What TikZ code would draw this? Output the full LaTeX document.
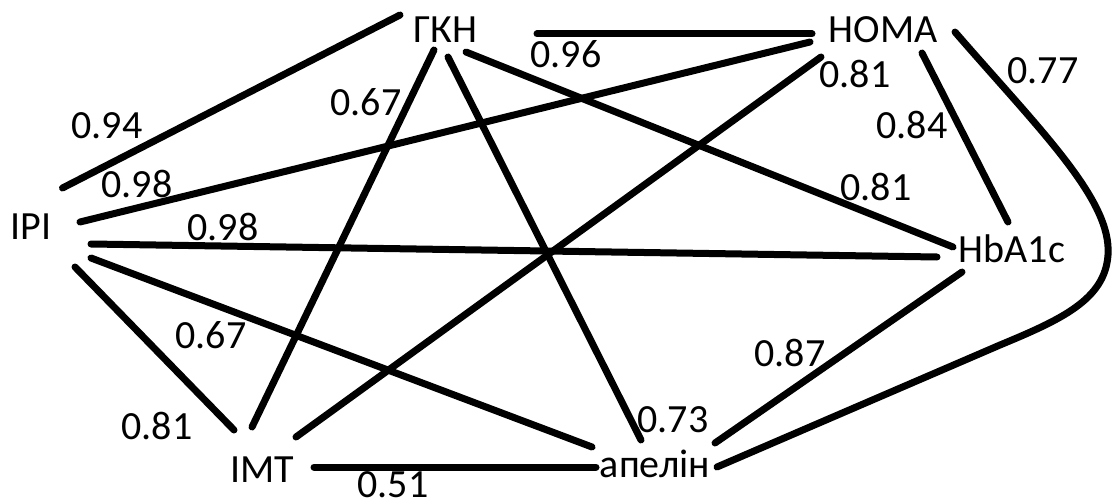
\documentclass[tikz,border=0pt]{standalone}
\usepackage{fontspec}
\setmainfont{Carlito}
\begin{document}
\begin{tikzpicture}[x=1pt,y=-1pt,
  lbl/.style={anchor=base,inner sep=0pt,font=\fontsize{40}{48}\selectfont},
  vname/.style={anchor=base,inner sep=0pt,font=\fontsize{40}{48}\selectfont},
  conn/.style={line width=7pt,line cap=round,line join=round}]
\useasboundingbox (0,0) rectangle (1119,503);
% nodes
\node[vname] (gkn) at (445,43) {ГКН};
\node[vname] (homa) at (883,43) {HOMA};
\node[vname] (ipi) at (31,239) {IPI};
\node[vname] (hba) at (1012,262) {HbA1c};
\node[vname] (imt) at (262,482) {IMT};
\node[vname] (apelin) at (655,477) {апелін};
% connectors
\draw[conn] ([shift={(-45,-28)}]gkn.base) -- ([shift={(31.5,-51)}]ipi.base);
\draw[conn] ([shift={(92,-9)}]gkn.base) -- ([shift={(-71,-9)}]homa.base);
\draw[conn] ([shift={(-11,7)}]gkn.base) -- ([shift={(-10,-55)}]imt.base);
\draw[conn] ([shift={(3,14)}]gkn.base) -- ([shift={(-14,-37)}]apelin.base);
\draw[conn] ([shift={(21,9)}]gkn.base) -- ([shift={(-59,-15)}]hba.base);
\draw[conn] ([shift={(49,-17)}]ipi.base) -- ([shift={(-73,-1)}]homa.base);
\draw[conn] ([shift={(60,5)}]ipi.base) -- ([shift={(-75,-5)}]hba.base);
\draw[conn] ([shift={(44,28)}]ipi.base) -- ([shift={(-28,-52)}]imt.base);
\draw[conn] ([shift={(60,19)}]ipi.base) -- ([shift={(-63,-30)}]apelin.base);
\draw[conn] ([shift={(-62,14)}]homa.base) -- ([shift={(34,-45)}]imt.base);
\draw[conn] ([shift={(39,10)}]homa.base) -- ([shift={(-4,-40)}]hba.base);
\draw[conn] ([shift={(72,-11)}]homa.base) .. controls (1040,130) and (1112,200) .. (1108,255)
  .. controls (1105,300) and (1060,320) .. (1000,345) -- ([shift={(62,-10)}]apelin.base);
\draw[conn] ([shift={(-50,10)}]hba.base) -- ([shift={(60,-34)}]apelin.base);
\draw[conn] ([shift={(52,-15)}]imt.base) -- ([shift={(-59,-10)}]apelin.base);
% labels
\node[lbl] (l1) at (107,138) {0.94};
\node[lbl] (l2) at (366,115) {0.67};
\node[lbl] (l3) at (137,197) {0.98};
\node[lbl] (l4) at (223,240) {0.98};
\node[lbl] (l5) at (566,67) {0.96};
\node[lbl] (l6) at (855,88) {0.81};
\node[lbl] (l7) at (1043,83) {0.77};
\node[lbl] (l8) at (912,138) {0.84};
\node[lbl] (l9) at (876,200) {0.81};
\node[lbl] (l10) at (211,348) {0.67};
\node[lbl] (l11) at (157,439) {0.81};
\node[lbl] (l12) at (790,366) {0.87};
\node[lbl] (l13) at (673,432) {0.73};
\node[lbl] (l14) at (393,497) {0.51};
\end{tikzpicture}
\end{document}
